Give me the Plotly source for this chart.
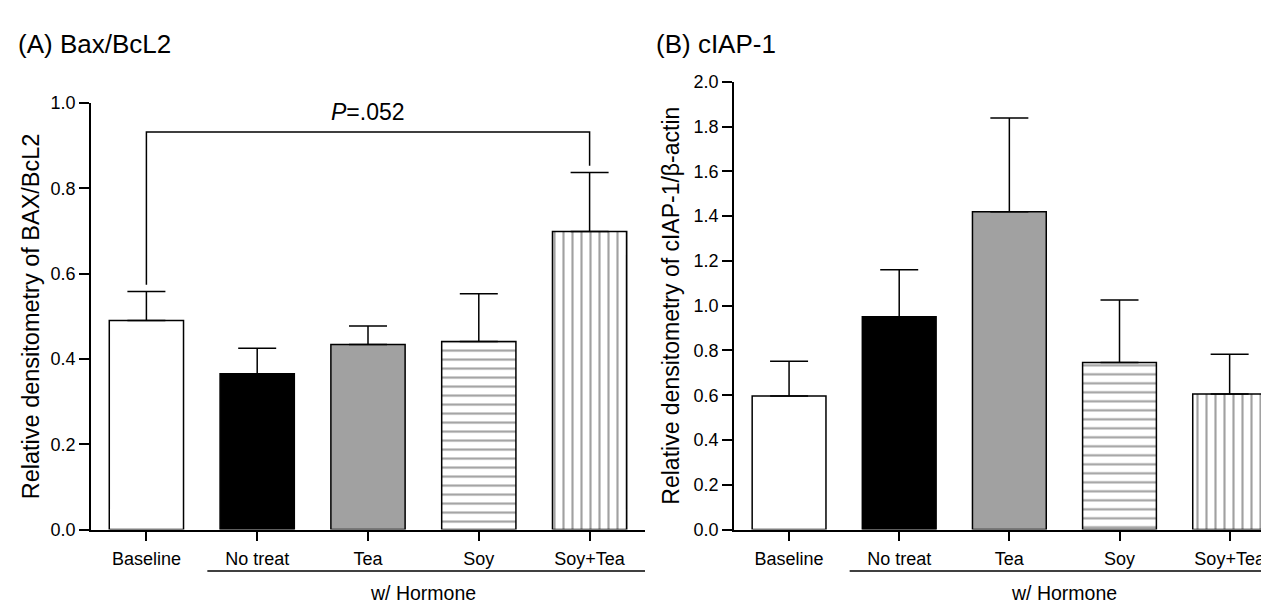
import plotly.graph_objects as go

W, H = 1269, 605

categories = ["Baseline", "No treat", "Tea", "Soy", "Soy+Tea"]

# Panel A: Bax/BcL2
bax_mean = [0.490, 0.365, 0.434, 0.441, 0.699]
bax_err = [0.068, 0.060, 0.043, 0.112, 0.138]

# Panel B: cIAP-1
ciap_mean = [0.596, 0.950, 1.420, 0.746, 0.605]
ciap_err = [0.156, 0.210, 0.418, 0.279, 0.178]

# significance bracket (panel A)
bracket_x = ["Baseline", "Baseline", "Soy+Tea", "Soy+Tea"]
bracket_y = [0.574, 0.932, 0.932, 0.853]
p_label = "<i>P</i>=.052"

bar_colors = ["white", "black", "#a1a1a1", "white", "white"]
bar_patterns = ["", "", "", "-", "|"]

yticks_a = [0.0, 0.2, 0.4, 0.6, 0.8, 1.0]
yticks_b = [0.0, 0.2, 0.4, 0.6, 0.8, 1.0, 1.2, 1.4, 1.6, 1.8, 2.0]

FONT = "Liberation Sans, Arial, Helvetica, sans-serif"


def bar_trace(means, errs, xa, ya):
    return go.Bar(
        x=categories, y=means, xaxis=xa, yaxis=ya, width=0.67,
        marker=dict(
            color=bar_colors,
            line=dict(color="black", width=1.5),
            pattern=dict(shape=bar_patterns, fgcolor="black", bgcolor="white",
                         size=9, solidity=0.24, fillmode="overlay"),
        ),
        error_y=dict(type="data", array=errs, arrayminus=[0] * len(errs),
                     symmetric=False, color="black", thickness=1.5, width=19),
        showlegend=False, hoverinfo="skip",
    )


fig = go.Figure()
fig.add_trace(bar_trace(bax_mean, bax_err, "x", "y"))
fig.add_trace(bar_trace(ciap_mean, ciap_err, "x2", "y2"))
fig.add_trace(go.Scatter(x=bracket_x, y=bracket_y, xaxis="x", yaxis="y",
                         mode="lines", line=dict(color="black", width=1.5),
                         showlegend=False, hoverinfo="skip"))

ax_common = dict(showline=True, linecolor="black", linewidth=1.5, ticks="outside",
                 ticklen=10, tickwidth=1.5, tickcolor="black", showgrid=False,
                 zeroline=False, tickfont=dict(size=18, color="black", family=FONT))

y_bottom = 1 - 529 / H

fig.update_layout(
    width=W, height=H, margin=dict(l=0, r=0, t=0, b=0),
    paper_bgcolor="white", plot_bgcolor="white",
    font=dict(family=FONT, color="black"),
    bargap=0.33,
    xaxis=dict(domain=[83 / W, 637 / W], type="category", range=[-0.5, 4.5],
               anchor="y", ticklabelstandoff=2, **ax_common),
    yaxis=dict(domain=[y_bottom, 1 - 88 / H], range=[0, 1.0], tickvals=yticks_a,
               tickformat=".1f", anchor="x", **ax_common),
    xaxis2=dict(domain=[726 / W, 1.0], type="category", range=[-0.5, 4.43],
                anchor="y2", ticklabelstandoff=2, **ax_common),
    yaxis2=dict(domain=[y_bottom, 1 - 66 / H], range=[0, 2.0], tickvals=yticks_b,
                tickformat=".1f", anchor="x2", **ax_common),
)

under_y = 1 - 572 / H
fig.add_shape(type="line", xref="x", yref="paper", x0=0.55, x1=4.5, y0=under_y, y1=under_y,
              line=dict(color="black", width=1.5))
fig.add_shape(type="line", xref="x2", yref="paper", x0=0.55, x1=4.43, y0=under_y, y1=under_y,
              line=dict(color="black", width=1.5))

annots = [
    dict(text="(A) Bax/BcL2", x=8 / W, y=1 - 27 / H, xref="paper", yref="paper",
         xanchor="left", yanchor="middle", font=dict(size=26)),
    dict(text="(B) cIAP-1", x=646 / W, y=1 - 27 / H, xref="paper", yref="paper",
         xanchor="left", yanchor="middle", font=dict(size=26)),
    dict(text="Relative densitometry of BAX/BcL2", x=23 / W, y=(y_bottom + 1 - 88 / H) / 2,
         xref="paper", yref="paper", textangle=-90, xanchor="center", yanchor="middle",
         font=dict(size=23.5)),
    dict(text="Relative densitometry of cIAP-1/β-actin", x=663 / W,
         y=(y_bottom + 1 - 66 / H) / 2, xref="paper", yref="paper", textangle=-90,
         xanchor="center", yanchor="middle", font=dict(size=23)),
    dict(text="w/ Hormone", x=2.5, xref="x", y=1 - 595 / H, yref="paper",
         xanchor="center", yanchor="middle", font=dict(size=19.5)),
    dict(text="w/ Hormone", x=2.5, xref="x2", y=1 - 595 / H, yref="paper",
         xanchor="center", yanchor="middle", font=dict(size=19.5)),
    dict(text=p_label, x=2.0, xref="x", y=1 - 97 / H, yref="paper",
         xanchor="center", yanchor="middle", font=dict(size=23)),
]
for a in annots:
    a["showarrow"] = False
    fig.add_annotation(**a)

fig.write_html("out.html")
